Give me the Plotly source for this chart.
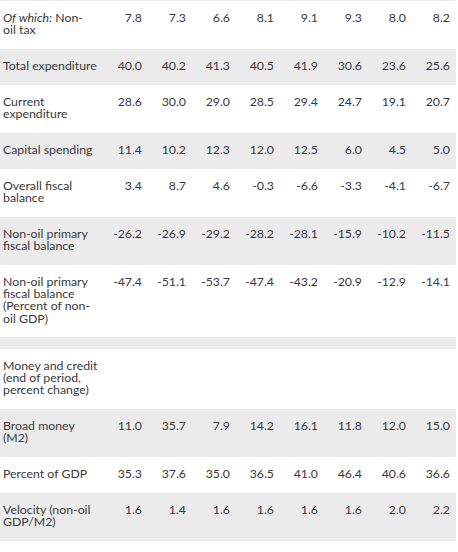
import plotly.graph_objects as go

# ---- data ----
row_labels = [
    "<i>Of which:</i> Non-<br>oil tax",
    "Total expenditure",
    "Current<br>expenditure",
    "Capital spending",
    "Overall fiscal<br>balance",
    "Non-oil primary<br>fiscal balance",
    "Non-oil primary<br>fiscal balance<br>(Percent of non-<br>oil GDP)",
    "",
    "Money and credit<br>(end of period,<br>percent change)",
    "Broad money<br>(M2)",
    "Percent of GDP",
    "Velocity (non-oil<br>GDP/M2)",
]

non_oil_tax = [7.8, 7.3, 6.6, 8.1, 9.1, 9.3, 8.0, 8.2]
total_expenditure = [40.0, 40.2, 41.3, 40.5, 41.9, 30.6, 23.6, 25.6]
current_expenditure = [28.6, 30.0, 29.0, 28.5, 29.4, 24.7, 19.1, 20.7]
capital_spending = [11.4, 10.2, 12.3, 12.0, 12.5, 6.0, 4.5, 5.0]
overall_fiscal_balance = [3.4, 8.7, 4.6, -0.3, -6.6, -3.3, -4.1, -6.7]
non_oil_primary_balance = [-26.2, -26.9, -29.2, -28.2, -28.1, -15.9, -10.2, -11.5]
non_oil_primary_balance_pct = [-47.4, -51.1, -53.7, -47.4, -43.2, -20.9, -12.9, -14.1]
spacer_row = []
money_and_credit = []
broad_money = [11.0, 35.7, 7.9, 14.2, 16.1, 11.8, 12.0, 15.0]
percent_of_gdp = [35.3, 37.6, 35.0, 36.5, 41.0, 46.4, 40.6, 36.6]
velocity = [1.6, 1.4, 1.6, 1.6, 1.6, 1.6, 2.0, 2.2]

row_values = [
    non_oil_tax, total_expenditure, current_expenditure, capital_spending,
    overall_fiscal_balance, non_oil_primary_balance, non_oil_primary_balance_pct,
    spacer_row, money_and_credit, broad_money, percent_of_gdp, velocity,
]
n_cols = 8

# ---- layout constants ----
W, H = 458, 552
label_w, col_w = 104, 44
pad_l, pad_r = 3, 6
line_h, text_line_h = 12, 12.2
first_line_off = 18
gray, white = "#ebebeb", "#ffffff"
font_family = "Lato, 'Open Sans', sans-serif"
text_color = "#3a3a3a"
font_size = 12.3

# row boundaries derived from label line counts
def row_height(label):
    if label == "":
        return line_h
    return line_h * (len(label.split("<br>")) + 2)

edges = [-line_h, 0]  # cropped row above (only its bottom edge is visible)
for lab in row_labels:
    edges.append(edges[-1] + row_height(lab))
z = [[(i + 1) % 2] for i in range(len(row_labels) + 1)]  # alternate gray / white, starting gray
table_right = label_w + n_cols * col_w

fig = go.Figure()
fig.add_trace(go.Heatmap(
    x=[0, table_right], y=edges, z=z,
    colorscale=[[0, white], [1, gray]], zmin=0, zmax=1,
    showscale=False, hoverinfo="skip",
))

# label text, one point per line
lx, ly, lt = [], [], []
for r, lab in enumerate(row_labels):
    if not lab:
        continue
    top = edges[r + 1]
    for k, part in enumerate(lab.split("<br>")):
        lx.append(pad_l)
        ly.append(top + first_line_off + k * text_line_h)
        lt.append(part)
fig.add_trace(go.Scatter(
    x=lx, y=ly, text=lt, mode="text", textposition="middle right",
    textfont=dict(family=font_family, size=font_size, color=text_color),
    hoverinfo="skip", cliponaxis=False,
))

# numbers
nx, ny, nt = [], [], []
for r, vals in enumerate(row_values):
    top = edges[r + 1]
    for c, v in enumerate(vals):
        nx.append(label_w + (c + 1) * col_w - pad_r)
        ny.append(top + first_line_off)
        nt.append(f"{v:.1f}")
fig.add_trace(go.Scatter(
    x=nx, y=ny, text=nt, mode="text", textposition="middle left",
    textfont=dict(family=font_family, size=font_size, color=text_color),
    hoverinfo="skip", cliponaxis=False,
))

fig.update_layout(
    width=W, height=H, margin=dict(l=0, r=0, t=0, b=0),
    paper_bgcolor="white", plot_bgcolor="white", showlegend=False,
    xaxis=dict(range=[0, W], visible=False, fixedrange=True),
    yaxis=dict(range=[H - 1, -1], visible=False, fixedrange=True),
)
fig.write_html(
    "out.html",
    config={"displayModeBar": False},
    post_script="document.body.style.margin='0';document.body.style.overflow='hidden';",
)
